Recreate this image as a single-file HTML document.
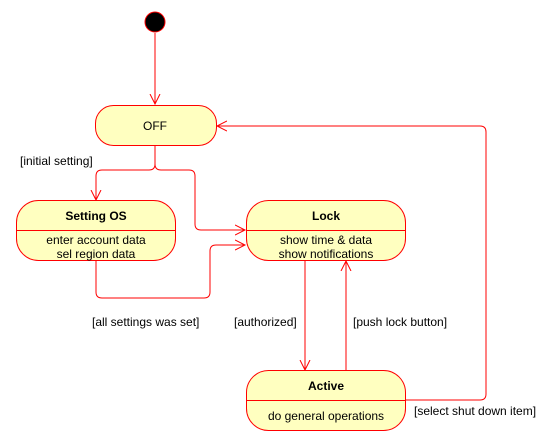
<!DOCTYPE html>
<html><head><style>body{margin:0;background:#fff}svg{display:block}text{font-family:"Liberation Sans",Arial,sans-serif;font-size:12px;fill:#000}</style></head><body>
<svg width="556" height="441" viewBox="0 0 556 441" xmlns="http://www.w3.org/2000/svg">
<defs><marker id="a" markerWidth="12" markerHeight="12" refX="10" refY="6" orient="auto" markerUnits="userSpaceOnUse"><path d="M0,1 L10,6 L0,11" fill="none" stroke="#f00" stroke-width="1"/></marker></defs>
<circle cx="155" cy="22" r="10" fill="#000" stroke="#f00" stroke-width="1"/>
<g fill="none" stroke="#f00" stroke-width="1">
<path d="M155,33 V104" marker-end="url(#a)"/>
<path d="M155,146 V164 Q155,170 149,170 H102 Q96,170 96,176 V200" marker-end="url(#a)"/>
<path d="M155,164 Q155,170 161,170 H189 Q195,170 195,176 V224 Q195,230 201,230 H245" marker-end="url(#a)"/>
<path d="M96,260 V292 Q96,298 102,298 H204 Q210,298 210,292 V251 Q210,245 216,245 H245" marker-end="url(#a)"/>
<path d="M305,261 V370" marker-end="url(#a)"/>
<path d="M346,370 V261" marker-end="url(#a)"/>
<path d="M405,400 H480 Q486,400 486,394 V132 Q486,126 480,126 H217" marker-end="url(#a)"/>
</g>
<g fill="#ffffc0" stroke="#f00" stroke-width="1">
<rect x="95.5" y="105.5" width="121" height="40" rx="18"/>
<rect x="16.5" y="200.5" width="159" height="60" rx="22"/>
<rect x="246.5" y="200.5" width="159" height="60" rx="22"/>
<rect x="246.5" y="370.5" width="159" height="60" rx="22"/>
<path d="M16.5,230.5 H175.5 M246.5,230.5 H405.5 M246.5,400.5 H405.5"/>
</g>
<text x="155" y="130" text-anchor="middle">OFF</text>
<text x="96" y="220" text-anchor="middle" font-weight="bold">Setting OS</text>
<text x="96" y="244" text-anchor="middle">enter account data</text>
<text x="96" y="258" text-anchor="middle">sel region data</text>
<text x="326" y="220" text-anchor="middle" font-weight="bold">Lock</text>
<text x="326" y="244" text-anchor="middle">show time &amp; data</text>
<text x="326" y="258" text-anchor="middle">show notifications</text>
<text x="326" y="390" text-anchor="middle" font-weight="bold">Active</text>
<text x="326" y="420" text-anchor="middle">do general operations</text>
<text x="20" y="165">[initial setting]</text>
<text x="92" y="326">[all settings was set]</text>
<text x="234" y="326">[authorized]</text>
<text x="353" y="326">[push lock button]</text>
<text x="414" y="415">[select shut down item]</text>
</svg>
</body></html>
